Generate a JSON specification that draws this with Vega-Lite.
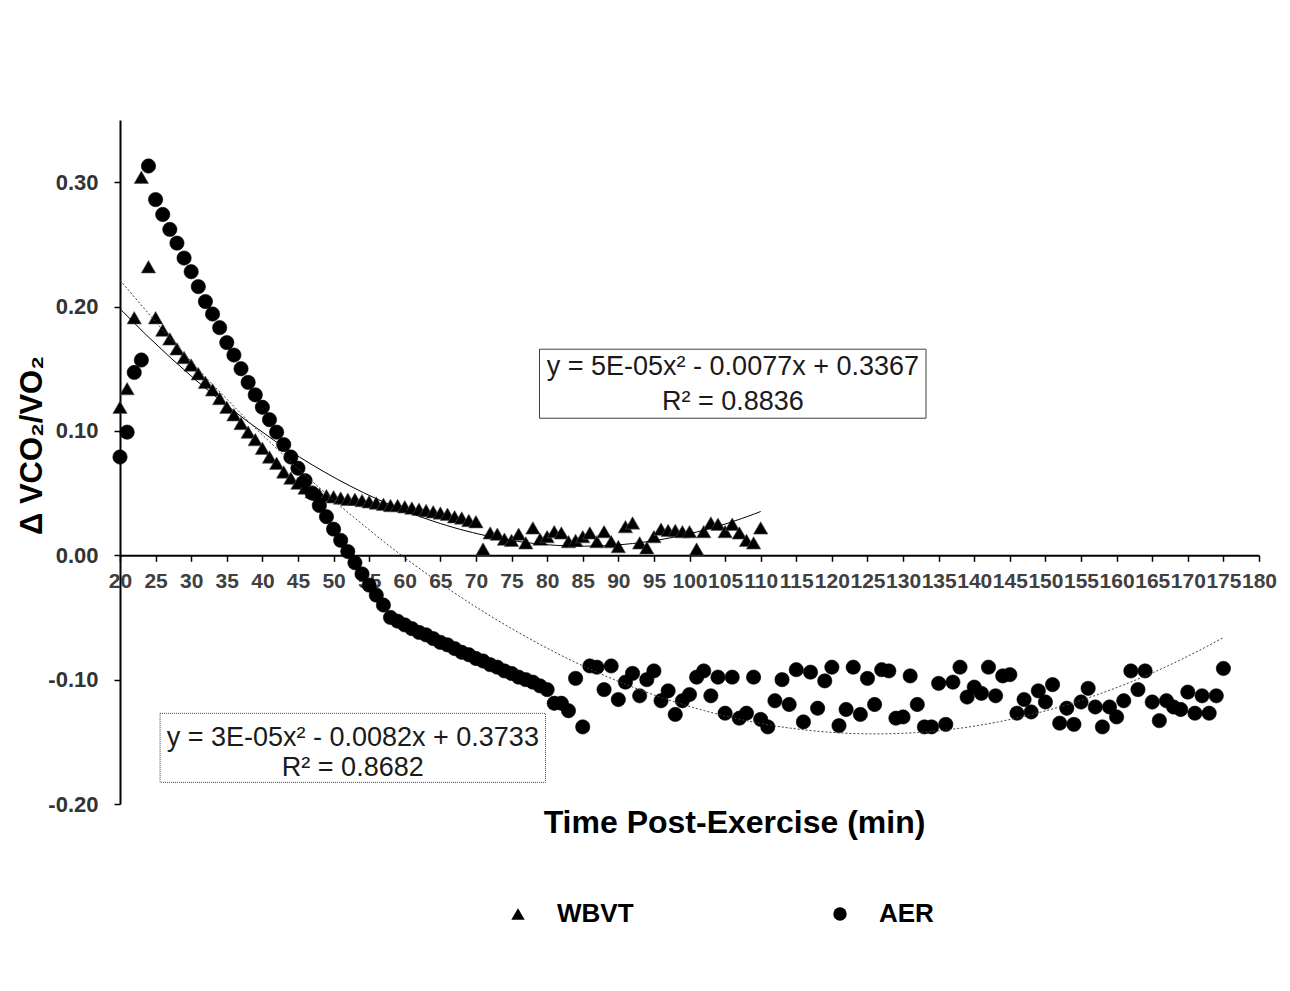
{
  "$schema": "https://vega.github.io/schema/vega-lite/v6.json",
  "width": 1139,
  "height": 684,
  "autosize": {"type": "none"},
  "padding": {"left": 120, "top": 120, "right": 31, "bottom": 187},
  "background": "white",
  "config": {"font": "Liberation Sans", "view": {"stroke": null}},
  "datasets": {
    "pts": [
      {"series":"WBVT","t":20,"v":0.119},{"series":"WBVT","t":21,"v":0.134},{"series":"WBVT","t":22,"v":0.191},{"series":"WBVT","t":23,"v":0.304},{"series":"WBVT","t":24,"v":0.232},
      {"series":"WBVT","t":25,"v":0.191},{"series":"WBVT","t":26,"v":0.181},{"series":"WBVT","t":27,"v":0.174},{"series":"WBVT","t":28,"v":0.166},{"series":"WBVT","t":29,"v":0.159},
      {"series":"WBVT","t":30,"v":0.153},{"series":"WBVT","t":31,"v":0.146},{"series":"WBVT","t":32,"v":0.139},{"series":"WBVT","t":33,"v":0.133},{"series":"WBVT","t":34,"v":0.126},
      {"series":"WBVT","t":35,"v":0.119},{"series":"WBVT","t":36,"v":0.113},{"series":"WBVT","t":37,"v":0.106},{"series":"WBVT","t":38,"v":0.099},{"series":"WBVT","t":39,"v":0.093},
      {"series":"WBVT","t":40,"v":0.086},{"series":"WBVT","t":41,"v":0.079},{"series":"WBVT","t":42,"v":0.074},{"series":"WBVT","t":43,"v":0.067},{"series":"WBVT","t":44,"v":0.062},
      {"series":"WBVT","t":45,"v":0.058},{"series":"WBVT","t":46,"v":0.054},{"series":"WBVT","t":47,"v":0.051},{"series":"WBVT","t":48,"v":0.049},{"series":"WBVT","t":49,"v":0.048},
      {"series":"WBVT","t":50,"v":0.047},{"series":"WBVT","t":51,"v":0.046},{"series":"WBVT","t":52,"v":0.045},{"series":"WBVT","t":53,"v":0.045},{"series":"WBVT","t":54,"v":0.044},
      {"series":"WBVT","t":55,"v":0.043},{"series":"WBVT","t":56,"v":0.042},{"series":"WBVT","t":57,"v":0.041},{"series":"WBVT","t":58,"v":0.040},{"series":"WBVT","t":59,"v":0.040},
      {"series":"WBVT","t":60,"v":0.039},{"series":"WBVT","t":61,"v":0.038},{"series":"WBVT","t":62,"v":0.037},{"series":"WBVT","t":63,"v":0.036},{"series":"WBVT","t":64,"v":0.035},
      {"series":"WBVT","t":65,"v":0.034},{"series":"WBVT","t":66,"v":0.033},{"series":"WBVT","t":67,"v":0.031},{"series":"WBVT","t":68,"v":0.030},{"series":"WBVT","t":69,"v":0.028},
      {"series":"WBVT","t":70,"v":0.027},{"series":"WBVT","t":71,"v":0.005},{"series":"WBVT","t":72,"v":0.018},{"series":"WBVT","t":73,"v":0.017},{"series":"WBVT","t":74,"v":0.013},
      {"series":"WBVT","t":75,"v":0.012},{"series":"WBVT","t":76,"v":0.017},{"series":"WBVT","t":77,"v":0.010},{"series":"WBVT","t":78,"v":0.022},{"series":"WBVT","t":79,"v":0.013},
      {"series":"WBVT","t":80,"v":0.015},{"series":"WBVT","t":81,"v":0.019},{"series":"WBVT","t":82,"v":0.018},{"series":"WBVT","t":83,"v":0.011},{"series":"WBVT","t":84,"v":0.012},
      {"series":"WBVT","t":85,"v":0.015},{"series":"WBVT","t":86,"v":0.018},{"series":"WBVT","t":87,"v":0.011},{"series":"WBVT","t":88,"v":0.019},{"series":"WBVT","t":89,"v":0.011},
      {"series":"WBVT","t":90,"v":0.007},{"series":"WBVT","t":91,"v":0.023},{"series":"WBVT","t":92,"v":0.026},{"series":"WBVT","t":93,"v":0.010},{"series":"WBVT","t":94,"v":0.006},
      {"series":"WBVT","t":95,"v":0.015},{"series":"WBVT","t":96,"v":0.021},{"series":"WBVT","t":97,"v":0.020},{"series":"WBVT","t":98,"v":0.020},{"series":"WBVT","t":99,"v":0.019},
      {"series":"WBVT","t":100,"v":0.019},{"series":"WBVT","t":101,"v":0.005},{"series":"WBVT","t":102,"v":0.019},{"series":"WBVT","t":103,"v":0.026},{"series":"WBVT","t":104,"v":0.025},
      {"series":"WBVT","t":105,"v":0.019},{"series":"WBVT","t":106,"v":0.025},{"series":"WBVT","t":107,"v":0.018},{"series":"WBVT","t":108,"v":0.012},{"series":"WBVT","t":109,"v":0.010},
      {"series":"WBVT","t":110,"v":0.022},
      {"series":"AER","t":20,"v":0.079},{"series":"AER","t":21,"v":0.099},{"series":"AER","t":22,"v":0.147},{"series":"AER","t":23,"v":0.157},{"series":"AER","t":24,"v":0.313},
      {"series":"AER","t":25,"v":0.286},{"series":"AER","t":26,"v":0.274},{"series":"AER","t":27,"v":0.262},{"series":"AER","t":28,"v":0.251},{"series":"AER","t":29,"v":0.239},
      {"series":"AER","t":30,"v":0.228},{"series":"AER","t":31,"v":0.216},{"series":"AER","t":32,"v":0.204},{"series":"AER","t":33,"v":0.194},{"series":"AER","t":34,"v":0.183},
      {"series":"AER","t":35,"v":0.171},{"series":"AER","t":36,"v":0.161},{"series":"AER","t":37,"v":0.150},{"series":"AER","t":38,"v":0.139},{"series":"AER","t":39,"v":0.129},
      {"series":"AER","t":40,"v":0.119},{"series":"AER","t":41,"v":0.109},{"series":"AER","t":42,"v":0.099},{"series":"AER","t":43,"v":0.089},{"series":"AER","t":44,"v":0.079},
      {"series":"AER","t":45,"v":0.070},{"series":"AER","t":46,"v":0.060},{"series":"AER","t":47,"v":0.050},{"series":"AER","t":48,"v":0.040},{"series":"AER","t":49,"v":0.031},
      {"series":"AER","t":50,"v":0.021},{"series":"AER","t":51,"v":0.012},{"series":"AER","t":52,"v":0.003},{"series":"AER","t":53,"v":-0.006},{"series":"AER","t":54,"v":-0.015},
      {"series":"AER","t":55,"v":-0.024},{"series":"AER","t":56,"v":-0.032},{"series":"AER","t":57,"v":-0.040},{"series":"AER","t":58,"v":-0.050},{"series":"AER","t":59,"v":-0.053},
      {"series":"AER","t":60,"v":-0.056},{"series":"AER","t":61,"v":-0.059},{"series":"AER","t":62,"v":-0.062},{"series":"AER","t":63,"v":-0.064},{"series":"AER","t":64,"v":-0.067},
      {"series":"AER","t":65,"v":-0.070},{"series":"AER","t":66,"v":-0.072},{"series":"AER","t":67,"v":-0.075},{"series":"AER","t":68,"v":-0.078},{"series":"AER","t":69,"v":-0.080},
      {"series":"AER","t":70,"v":-0.083},{"series":"AER","t":71,"v":-0.085},{"series":"AER","t":72,"v":-0.088},{"series":"AER","t":73,"v":-0.090},{"series":"AER","t":74,"v":-0.093},
      {"series":"AER","t":75,"v":-0.095},{"series":"AER","t":76,"v":-0.098},{"series":"AER","t":77,"v":-0.100},{"series":"AER","t":78,"v":-0.102},{"series":"AER","t":79,"v":-0.105},
      {"series":"AER","t":80,"v":-0.108},{"series":"AER","t":81,"v":-0.119},{"series":"AER","t":82,"v":-0.119},{"series":"AER","t":83,"v":-0.125},{"series":"AER","t":84,"v":-0.099},
      {"series":"AER","t":85,"v":-0.138},{"series":"AER","t":86,"v":-0.089},{"series":"AER","t":87,"v":-0.090},{"series":"AER","t":88,"v":-0.108},{"series":"AER","t":89,"v":-0.089},
      {"series":"AER","t":90,"v":-0.116},{"series":"AER","t":91,"v":-0.102},{"series":"AER","t":92,"v":-0.095},{"series":"AER","t":93,"v":-0.113},{"series":"AER","t":94,"v":-0.100},
      {"series":"AER","t":95,"v":-0.093},{"series":"AER","t":96,"v":-0.117},{"series":"AER","t":97,"v":-0.109},{"series":"AER","t":98,"v":-0.128},{"series":"AER","t":99,"v":-0.117},
      {"series":"AER","t":100,"v":-0.112},{"series":"AER","t":101,"v":-0.098},{"series":"AER","t":102,"v":-0.093},{"series":"AER","t":103,"v":-0.113},{"series":"AER","t":104,"v":-0.098},
      {"series":"AER","t":105,"v":-0.127},{"series":"AER","t":106,"v":-0.098},{"series":"AER","t":107,"v":-0.131},{"series":"AER","t":108,"v":-0.127},{"series":"AER","t":109,"v":-0.098},
      {"series":"AER","t":110,"v":-0.132},{"series":"AER","t":111,"v":-0.138},{"series":"AER","t":112,"v":-0.117},{"series":"AER","t":113,"v":-0.100},{"series":"AER","t":114,"v":-0.120},
      {"series":"AER","t":115,"v":-0.092},{"series":"AER","t":116,"v":-0.134},{"series":"AER","t":117,"v":-0.094},{"series":"AER","t":118,"v":-0.123},{"series":"AER","t":119,"v":-0.101},
      {"series":"AER","t":120,"v":-0.090},{"series":"AER","t":121,"v":-0.137},{"series":"AER","t":122,"v":-0.124},{"series":"AER","t":123,"v":-0.090},{"series":"AER","t":124,"v":-0.128},
      {"series":"AER","t":125,"v":-0.099},{"series":"AER","t":126,"v":-0.120},{"series":"AER","t":127,"v":-0.092},{"series":"AER","t":128,"v":-0.093},{"series":"AER","t":129,"v":-0.131},
      {"series":"AER","t":130,"v":-0.130},{"series":"AER","t":131,"v":-0.097},{"series":"AER","t":132,"v":-0.120},{"series":"AER","t":133,"v":-0.138},{"series":"AER","t":134,"v":-0.138},
      {"series":"AER","t":135,"v":-0.103},{"series":"AER","t":136,"v":-0.136},{"series":"AER","t":137,"v":-0.102},{"series":"AER","t":138,"v":-0.090},{"series":"AER","t":139,"v":-0.114},
      {"series":"AER","t":140,"v":-0.106},{"series":"AER","t":141,"v":-0.111},{"series":"AER","t":142,"v":-0.090},{"series":"AER","t":143,"v":-0.113},{"series":"AER","t":144,"v":-0.097},
      {"series":"AER","t":145,"v":-0.096},{"series":"AER","t":146,"v":-0.127},{"series":"AER","t":147,"v":-0.116},{"series":"AER","t":148,"v":-0.126},{"series":"AER","t":149,"v":-0.109},
      {"series":"AER","t":150,"v":-0.118},{"series":"AER","t":151,"v":-0.104},{"series":"AER","t":152,"v":-0.135},{"series":"AER","t":153,"v":-0.123},{"series":"AER","t":154,"v":-0.136},
      {"series":"AER","t":155,"v":-0.118},{"series":"AER","t":156,"v":-0.107},{"series":"AER","t":157,"v":-0.122},{"series":"AER","t":158,"v":-0.138},{"series":"AER","t":159,"v":-0.122},
      {"series":"AER","t":160,"v":-0.130},{"series":"AER","t":161,"v":-0.117},{"series":"AER","t":162,"v":-0.093},{"series":"AER","t":163,"v":-0.108},{"series":"AER","t":164,"v":-0.093},
      {"series":"AER","t":165,"v":-0.118},{"series":"AER","t":166,"v":-0.133},{"series":"AER","t":167,"v":-0.117},{"series":"AER","t":168,"v":-0.122},{"series":"AER","t":169,"v":-0.124},
      {"series":"AER","t":170,"v":-0.110},{"series":"AER","t":171,"v":-0.127},{"series":"AER","t":172,"v":-0.113},{"series":"AER","t":173,"v":-0.127},{"series":"AER","t":174,"v":-0.113},
      {"series":"AER","t":175,"v":-0.091}
    ],
    "boxes": [
      {"fit":"WBVT","t":78.93,"t2":133.22,"v":0.1657,"v2":0.1102},
      {"fit":"AER","t":25.63,"t2":79.77,"v":-0.1271,"v2":-0.1826}
    ],
    "notes": [
      {"fit":"WBVT","t":106.1,"v":0.1512,"label":"y = 5E-05x² - 0.0077x + 0.3367"},
      {"fit":"WBVT","t":106.1,"v":0.1231,"label":"R² = 0.8836"},
      {"fit":"AER","t":52.7,"v":-0.1472,"label":"y = 3E-05x² - 0.0082x + 0.3733"},
      {"fit":"AER","t":52.7,"v":-0.1714,"label":"R² = 0.8682"}
    ]
  },
  "encoding": {
    "x": {
      "field": "t", "type": "quantitative",
      "scale": {"domain": [20, 180], "nice": false, "zero": false},
      "axis": {
        "values": [20,25,30,35,40,45,50,55,60,65,70,75,80,85,90,95,100,105,110,115,120,125,130,135,140,145,150,155,160,165,170,175,180],
        "format": "d", "labelFontSize": 21, "labelFontWeight": "bold", "labelColor": "#404040",
        "labelOverlap": false, "labelFlush": false, "labelPadding": 9,
        "tickSize": 6, "tickWidth": 1.5, "tickColor": "black",
        "domainColor": "black", "domainWidth": 2, "grid": false, "offset": -248.7,
        "title": "Time Post-Exercise (min)", "titleFontSize": 32, "titleFontWeight": "bold", "titleColor": "black",
        "titleX": 614, "titleY": 267, "titleBaseline": "middle", "titleAlign": "center"
      }
    },
    "y": {
      "field": "v", "type": "quantitative",
      "scale": {"domain": [-0.2, 0.35], "nice": false, "zero": false},
      "axis": {
        "values": [-0.2, -0.1, 0, 0.1, 0.2, 0.3],
        "labelExpr": "replace(format(datum.value, '.2f'), '\u2212', '-')",
        "labelFontSize": 22, "labelFontWeight": "bold", "labelColor": "#333333", "labelPadding": 16,
        "tickSize": 6, "tickWidth": 1.5, "tickColor": "black",
        "domainColor": "black", "domainWidth": 2, "grid": false,
        "title": "Δ VCO₂/VO₂", "titleFontSize": 31, "titleFontWeight": "bold", "titleColor": "black",
        "titleX": -88, "titleY": 325, "titleBaseline": "middle", "titleAlign": "center", "titleAngle": 270
      }
    }
  },
  "layer": [
    {
      "data": {"name": "pts"},
      "mark": {"type": "point", "filled": true, "fill": "black", "opacity": 1, "size": 205, "strokeWidth": 0.6},
      "encoding": {
        "shape": {
          "field": "series", "type": "nominal",
          "scale": {"domain": ["WBVT", "AER"], "range": ["triangle-up", "circle"]},
          "legend": {
            "orient": "none", "direction": "horizontal", "legendX": 385, "legendY": 781,
            "title": null, "padding": 0, "labelFontSize": 26, "labelFontWeight": "bold", "labelColor": "black",
            "symbolSize": 180, "symbolFillColor": "black", "symbolStrokeWidth": 0,
            "labelOffset": 26, "columnPadding": 193
          }
        },
        "stroke": {
          "field": "series", "type": "nominal",
          "scale": {"domain": ["WBVT", "AER"], "range": ["#555555", "#000000"]},
          "legend": null
        }
      }
    },
    {
      "data": {"name": "pts"},
      "transform": [
        {"filter": "datum.series === 'WBVT'"},
        {"regression": "v", "on": "t", "method": "poly", "order": 2, "extent": [20, 110]}
      ],
      "mark": {"type": "line", "color": "black", "strokeWidth": 1}
    },
    {
      "data": {"name": "pts"},
      "transform": [
        {"filter": "datum.series === 'AER'"},
        {"regression": "v", "on": "t", "method": "poly", "order": 2, "extent": [20, 175]}
      ],
      "mark": {"type": "line", "color": "#404040", "strokeWidth": 1, "strokeDash": [2, 2]}
    },
    {
      "data": {"name": "boxes"},
      "transform": [{"filter": "datum.fit === 'WBVT'"}],
      "mark": {"type": "rect", "fill": "white", "stroke": "#404040", "strokeWidth": 1},
      "encoding": {"x2": {"field": "t2"}, "y2": {"field": "v2"}}
    },
    {
      "data": {"name": "boxes"},
      "transform": [{"filter": "datum.fit === 'AER'"}],
      "mark": {"type": "rect", "fill": "white", "stroke": "#404040", "strokeWidth": 1, "strokeDash": [1, 1]},
      "encoding": {"x2": {"field": "t2"}, "y2": {"field": "v2"}}
    },
    {
      "data": {"name": "notes"},
      "mark": {"type": "text", "fontSize": 27, "color": "#1a1a1a", "align": "center", "baseline": "middle"},
      "encoding": {"text": {"field": "label"}}
    }
  ]
}
